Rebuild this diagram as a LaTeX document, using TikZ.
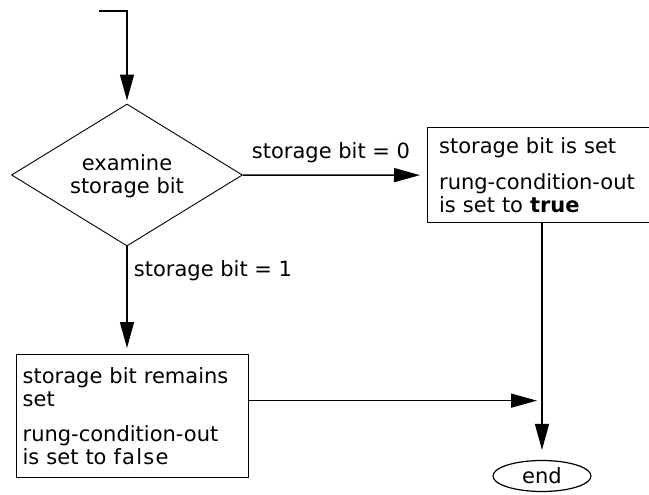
\documentclass[tikz,border=0pt]{standalone}
\usepackage{fontspec}
\setmainfont{DejaVu Sans}
\newfontfamily\falsefont[LetterSpace=6]{DejaVu Sans}
\usetikzlibrary{shapes.geometric,arrows.meta}
\tikzset{
  txt/.style={font=\fontsize{21}{23}\selectfont, inner sep=0pt},
  boxnode/.style={draw, line width=1.3pt, txt, align=left, inner xsep=10pt},
  decnode/.style={draw, diamond, line width=0.9pt, minimum width=231pt, minimum height=142pt, inner sep=0pt},
  flow/.style={line width=1.5pt, -{Triangle[length=26pt,width=14pt]}},
}
\begin{document}
\begin{tikzpicture}[x=1pt,y=-1pt]
\clip (0,0) rectangle (649,495);
\useasboundingbox (0,0) rectangle (649,495);
\coordinate (start) at (99,11);
\coordinate (corner) at (127,11);
\node[decnode] (dec) at (127,175) {};
\node[txt, align=center] (dectext) at (127,176) {examine\\storage bit};
\node[boxnode, anchor=north west, minimum width=273pt, minimum height=95pt, text width=250pt] (setbox) at (427,127)
  {storage bit is set\\[13pt]rung-condition-out\\is set to \textbf{true}};
\node[boxnode, anchor=north west, minimum width=232pt, minimum height=123pt, text width=220pt, inner xsep=6pt] (keepbox) at (16,354)
  {storage bit remains\\set\\[12pt]rung-condition-out\\is set to {\falsefont false}};
\node[draw, ellipse, line width=1.2pt, txt, minimum width=98pt, minimum height=31pt] (endnode) at (542,476) {end};
\node[txt] (lbl0) at (331,153) {storage bit = 0};
\node[txt] (lbl1) at (213,271) {storage bit = 1};
\draw[flow, shorten >=3pt] (start) -- (corner) -- (dec.north);
\draw[flow, shorten >=7pt] (dec.east) -- (setbox.west);
\draw[flow, shorten >=6pt] (dec.south) -- (dec.south |- keepbox.north);
\coordinate (keepout) at ([yshift=15.5pt]keepbox.east);
\draw[flow, shorten >=5pt] (keepout) -- (keepout -| endnode.north);
\draw[flow, shorten >=10pt] (endnode.north |- setbox.south) -- (endnode.north);
\end{tikzpicture}
\end{document}
